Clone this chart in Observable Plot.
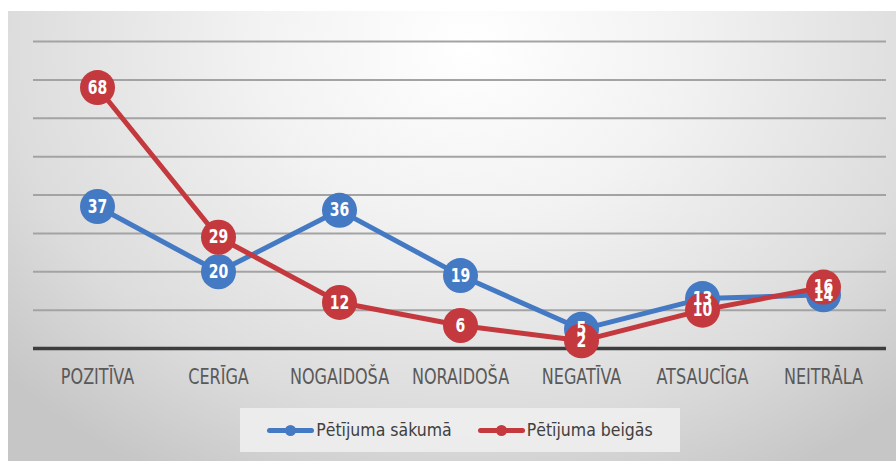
<!DOCTYPE html>
<html>
<head>
<meta charset="utf-8">
<script src="https://cdn.jsdelivr.net/npm/d3@7"></script>
<script src="https://cdn.jsdelivr.net/npm/@observablehq/plot@0.6"></script>
<style>
  body { margin: 0; background: #fff; }
  #wrap { position: relative; width: 896px; height: 461px; overflow: hidden; background: #fff; }
  #panel { position: absolute; left: 8px; top: 11px; width: 888px; height: 450px;
    background: radial-gradient(ellipse 70% 110% at 52% 8%, #ffffff 0%, #f2f2f2 35%, #dcdcdc 75%, #c6c6c6 100%); }
  #chart { position: absolute; left: 0; top: 0; }
  #legend { position: absolute; left: 240px; top: 408px; width: 440px; height: 44px;
    background: rgba(238,238,238,0.9); display: flex; align-items: center; justify-content: center; gap: 26px;
    font-family: "DejaVu Sans Condensed", "Open Sans", sans-serif; font-size: 17.5px; color: #404040; }
  .item { display: flex; align-items: center; }
  .sw { position: relative; width: 47px; height: 5px; border-radius: 3px; margin-right: 2px; }
  .sw::after { content: ""; position: absolute; left: 18px; top: -3px; width: 11px; height: 11px; border-radius: 50%; background: inherit; }
</style>
</head>
<body>
<div id="wrap">
  <div id="panel"></div>
  <div id="chart"></div>
  <div id="legend"></div>
</div>
<script>
const categories = ["POZITĪVA", "CERĪGA", "NOGAIDOŠA", "NORAIDOŠA", "NEGATĪVA", "ATSAUCĪGA", "NEITRĀLA"];
const seriesNames = ["Pētījuma sākumā", "Pētījuma beigās"];
const startValues = [37, 20, 36, 19, 5, 13, 14];
const endValues = [68, 29, 12, 6, 2, 10, 16];
const gridTicks = [10, 20, 30, 40, 50, 60, 70, 80];
const colors = ["#4479c4", "#c3393d"];

const start = categories.map((c, i) => ({cat: c, value: startValues[i], series: seriesNames[0]}));
const end = categories.map((c, i) => ({cat: c, value: endValues[i], series: seriesNames[1]}));

const font = '"DejaVu Sans Condensed", "Open Sans", sans-serif';

const plot = Plot.plot({
  width: 896,
  height: 400,
  marginLeft: 33,
  marginRight: 10,
  marginTop: 41,
  marginBottom: 52,
  style: {background: "transparent", fontFamily: font},
  x: {type: "point", domain: categories, padding: 0.5, label: null},
  y: {domain: [0, 80], axis: null},
  marks: [
    Plot.ruleY(gridTicks, {stroke: "#a3a3a3", strokeWidth: 2}),
    Plot.ruleY([0], {stroke: "#3d3d3d", strokeWidth: 3.5}),
    Plot.axisX({tickSize: 0, tickPadding: 21, fontSize: 21, fill: "#595959", label: null}),
    Plot.line(start, {x: "cat", y: "value", stroke: colors[0], strokeWidth: 5}),
    Plot.dot(start, {x: "cat", y: "value", r: 17.5, fill: colors[0]}),
    Plot.line(end, {x: "cat", y: "value", stroke: colors[1], strokeWidth: 5}),
    Plot.dot(end, {x: "cat", y: "value", r: 17.5, fill: colors[1]}),
    Plot.text(start, {x: "cat", y: "value", text: d => String(d.value), fill: "white", fontSize: 19, fontWeight: "bold"}),
    Plot.text(end, {x: "cat", y: "value", text: d => String(d.value), fill: "white", fontSize: 19, fontWeight: "bold"})
  ]
});
// narrow the text horizontally to mimic the reference's condensed face
plot.querySelectorAll('g[aria-label="x-axis tick label"] text').forEach(t => {
  const tr = t.getAttribute("transform") || "";
  t.setAttribute("transform", tr + " scale(0.85,1)");
});
plot.querySelectorAll('g[aria-label="text"] text').forEach(t => {
  const tr = t.getAttribute("transform") || "";
  t.setAttribute("transform", tr + " scale(0.82,1)");
});
document.getElementById("chart").appendChild(plot);

const legend = document.getElementById("legend");
seriesNames.forEach((name, i) => {
  const item = document.createElement("div");
  item.className = "item";
  const sw = document.createElement("span");
  sw.className = "sw";
  sw.style.background = colors[i];
  const label = document.createElement("span");
  label.textContent = name;
  item.appendChild(sw);
  item.appendChild(label);
  legend.appendChild(item);
});
</script>
</body>
</html>
